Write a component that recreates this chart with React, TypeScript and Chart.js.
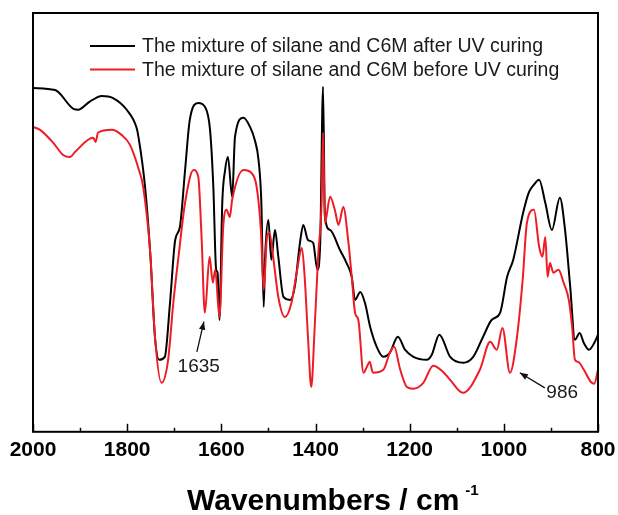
import React, { useEffect, useRef } from 'react';
import { Chart, registerables } from 'chart.js';

Chart.register(...registerables);

// Wavenumber (cm^-1) vs transmittance (a.u., % of plot height)
const afterCuring: [number, number][] = [
  [2000, 82.1], [1953, 81.6], [1914, 77.1], [1904, 76.9], [1880, 78.8], [1854, 80.2], [1830, 79.7],
  [1801, 76.9], [1780, 72.6], [1776, 70.4], [1762, 58.5], [1751, 42.7], [1741, 22.7], [1732, 17.2],
  [1720, 17.9], [1709, 30.8], [1698, 45.8], [1688, 48.9], [1677, 62.5], [1667, 74.5], [1649, 78.5],
  [1635, 77.6], [1624, 72.1], [1617, 58.5], [1611, 38.7], [1608, 38.0], [1604, 26.7], [1598, 54.7],
  [1592, 62.5], [1586, 65.6], [1577, 56.1], [1571, 70.4], [1553, 75.0], [1539, 72.8], [1529, 69.7],
  [1521, 64.9], [1515, 54.7], [1510, 29.8], [1507, 41.8], [1500, 50.6], [1494, 41.1], [1486, 48.2],
  [1479, 41.8], [1468, 32.2], [1454, 31.5], [1444, 34.6], [1433, 45.1], [1426, 49.4], [1416, 45.8],
  [1405, 45.1], [1396, 38.7], [1390, 45.1], [1384, 82.4], [1380, 51.3], [1369, 48.2], [1348, 43.4],
  [1334, 40.3], [1323, 37.0], [1316, 31.5], [1305, 33.4], [1295, 30.8], [1284, 25.1], [1270, 20.3],
  [1256, 17.9], [1242, 18.9], [1225, 22.7], [1210, 19.6], [1192, 17.9], [1164, 17.2], [1153, 18.4],
  [1137, 23.2], [1114, 17.9], [1086, 16.5], [1065, 17.9], [1044, 22.7], [1026, 26.7], [1008, 28.4],
  [993, 37.0], [980, 41.1], [959, 52.3], [947, 57.1], [936, 59.0], [925, 60.2], [912, 54.7],
  [898, 48.2], [881, 55.9], [870, 48.2], [859, 34.6], [849, 22.0], [839, 23.6], [830, 21.2],
  [819, 19.6], [808, 21.2], [800, 23.2],
];

const beforeCuring: [number, number][] = [
  [2000, 72.8], [1985, 72.1], [1957, 69.0], [1936, 66.1], [1921, 65.6], [1911, 66.8], [1872, 70.2],
  [1867, 69.2], [1862, 71.4], [1833, 72.1], [1812, 70.9], [1794, 68.5], [1775, 62.5], [1766, 58.5],
  [1751, 42.7], [1741, 22.7], [1727, 11.7], [1713, 17.2], [1702, 30.8], [1691, 41.8], [1677, 54.7],
  [1659, 62.5], [1649, 60.9], [1642, 46.5], [1635, 28.4], [1625, 41.8], [1618, 35.6], [1613, 38.7],
  [1604, 27.4], [1596, 48.9], [1589, 53.0], [1582, 51.3], [1577, 55.4], [1553, 62.5], [1536, 61.8],
  [1525, 58.5], [1516, 48.2], [1510, 33.9], [1503, 46.5], [1498, 47.5], [1490, 41.8], [1479, 32.2],
  [1465, 27.4], [1451, 30.8], [1440, 38.0], [1429, 43.9], [1423, 37.0], [1416, 22.7], [1409, 10.7],
  [1402, 24.3], [1394, 42.7], [1387, 54.7], [1384, 71.4], [1380, 49.9], [1369, 56.1], [1359, 53.0],
  [1351, 49.4], [1341, 53.7], [1330, 45.1], [1323, 37.0], [1316, 28.4], [1309, 26.7], [1298, 14.1],
  [1291, 15.5], [1285, 16.7], [1278, 14.1], [1256, 14.8], [1242, 18.9], [1233, 20.3], [1220, 14.8],
  [1206, 10.7], [1193, 10.3], [1171, 11.7], [1150, 15.8], [1129, 14.3], [1114, 12.4], [1087, 9.3],
  [1051, 14.8], [1029, 21.5], [1015, 19.6], [1003, 24.8], [987, 14.1], [972, 22.7], [960, 36.3],
  [951, 49.9], [936, 53.0], [925, 44.2], [918, 41.8], [912, 46.5], [907, 37.0], [902, 40.3],
  [895, 38.0], [884, 38.7], [873, 35.6], [862, 31.5], [855, 25.1], [849, 17.2], [842, 16.7],
  [830, 14.8], [815, 11.9], [808, 11.5], [800, 14.8],
];

const seriesLabels = [
  'The mixture of silane and C6M after UV curing',
  'The mixture of silane and C6M before UV curing',
];
const seriesColors = ['#000000', '#ee1c25'];

const xMin = 800;
const xMax = 2000;
const xMajorStep = 200;
const xMinorStep = 100;

const xTitle = 'Wavenumbers / cm';
const xTitleSup = '-1';

// Annotations, in data units (wavenumber, transmittance)
const annotationLabels = ['1635', '986'];
const annotationTip: [number, number][] = [[1637, 26.3], [966, 14.1]];
const annotationTail: [number, number][] = [[1652, 19.1], [913, 10.5]];
const annotationText: [number, number][] = [[1648, 15.5], [876, 9.3]];

const FONT = 'Arial, "Liberation Sans", Helvetica, sans-serif';

const decorPlugin = {
  id: 'decor',
  afterDraw(chart: any) {
    const { ctx, chartArea, scales } = chart;
    const xs = scales.x;
    const ys = scales.y;
    const { left, right, top, bottom } = chartArea;
    ctx.save();

    // frame
    ctx.strokeStyle = '#000';
    ctx.lineWidth = 2;
    ctx.strokeRect(left, top, right - left, bottom - top);

    // inward ticks on bottom axis
    ctx.lineWidth = 1.5;
    for (let v = xMin; v <= xMax; v += xMinorStep) {
      const px = Math.round(xs.getPixelForValue(v)) + 0.5;
      const len = v % xMajorStep === 0 ? 8 : 4;
      ctx.beginPath();
      ctx.moveTo(px, bottom);
      ctx.lineTo(px, bottom - len);
      ctx.stroke();
    }

    // legend
    ctx.font = `19.5px ${FONT}`;
    ctx.textBaseline = 'middle';
    ctx.textAlign = 'left';
    chart.data.datasets.forEach((ds: any, i: number) => {
      const y = top + 33 + i * 23.5;
      ctx.strokeStyle = ds.borderColor;
      ctx.lineWidth = 2;
      ctx.beginPath();
      ctx.moveTo(left + 57, y);
      ctx.lineTo(left + 102, y);
      ctx.stroke();
      ctx.fillStyle = '#1a1a1a';
      ctx.fillText(ds.label, left + 109, y + 1);
    });

    // annotations with arrows
    ctx.font = `19px ${FONT}`;
    ctx.textAlign = 'center';
    ctx.textBaseline = 'middle';
    annotationLabels.forEach((lab, i) => {
      const tx = xs.getPixelForValue(annotationTip[i][0]);
      const ty = ys.getPixelForValue(annotationTip[i][1]);
      const sx = xs.getPixelForValue(annotationTail[i][0]);
      const sy = ys.getPixelForValue(annotationTail[i][1]);
      ctx.strokeStyle = '#111';
      ctx.fillStyle = '#111';
      ctx.lineWidth = 1.3;
      ctx.beginPath();
      ctx.moveTo(sx, sy);
      ctx.lineTo(tx, ty);
      ctx.stroke();
      const ang = Math.atan2(ty - sy, tx - sx);
      const hl = 8;
      const hw = 3.2;
      ctx.beginPath();
      ctx.moveTo(tx, ty);
      ctx.lineTo(tx - hl * Math.cos(ang) + hw * Math.sin(ang), ty - hl * Math.sin(ang) - hw * Math.cos(ang));
      ctx.lineTo(tx - hl * Math.cos(ang) - hw * Math.sin(ang), ty - hl * Math.sin(ang) + hw * Math.cos(ang));
      ctx.closePath();
      ctx.fill();
      ctx.fillStyle = '#1a1a1a';
      ctx.fillText(lab, xs.getPixelForValue(annotationText[i][0]), ys.getPixelForValue(annotationText[i][1]));
    });

    // axis title with superscript
    ctx.fillStyle = '#000';
    ctx.textAlign = 'left';
    ctx.textBaseline = 'alphabetic';
    ctx.font = `bold 30px ${FONT}`;
    const mainW = ctx.measureText(xTitle).width;
    const x0 = left + 154;
    const base = bottom + 78;
    ctx.fillText(xTitle, x0, base);
    ctx.font = `bold 15px ${FONT}`;
    ctx.fillText(xTitleSup, x0 + mainW + 6, base - 15);

    ctx.restore();
  },
};

export default function App() {
  const canvasRef = useRef<HTMLCanvasElement | null>(null);

  useEffect(() => {
    if (!canvasRef.current) return;
    const chart = new Chart(canvasRef.current, {
      type: 'line',
      data: {
        datasets: [
          {
            label: seriesLabels[0],
            data: afterCuring.map(([x, y]) => ({ x, y })),
            borderColor: seriesColors[0],
            borderWidth: 2,
            pointRadius: 0,
            cubicInterpolationMode: 'monotone',
            order: 1,
          },
          {
            label: seriesLabels[1],
            data: beforeCuring.map(([x, y]) => ({ x, y })),
            borderColor: seriesColors[1],
            borderWidth: 2,
            pointRadius: 0,
            cubicInterpolationMode: 'monotone',
            order: 0,
          },
        ],
      },
      options: {
        animation: false,
        responsive: false,
        maintainAspectRatio: false,
        layout: { padding: { left: 33, right: 20, top: 13, bottom: 46 } },
        plugins: { legend: { display: false }, tooltip: { enabled: false } },
        scales: {
          x: {
            type: 'linear',
            reverse: true,
            min: xMin,
            max: xMax,
            grid: { display: false, drawTicks: false },
            border: { display: false },
            afterFit: (scale: any) => {
              scale.paddingLeft = 0;
              scale.paddingRight = 0;
            },
            ticks: {
              stepSize: xMajorStep,
              padding: 6,
              color: '#000',
              font: { family: FONT, size: 21, weight: 'bold' },
              maxRotation: 0,
              callback: (v: any) => String(v),
            },
          },
          y: {
            display: false,
            min: 0,
            max: 100,
          },
        },
      },
      plugins: [decorPlugin],
    } as any);
    return () => chart.destroy();
  }, []);

  return (
    <canvas
      ref={canvasRef}
      width={618}
      height={515}
      style={{ position: 'absolute', left: 0, top: 0, display: 'block', background: '#fff' }}
    />
  );
}
